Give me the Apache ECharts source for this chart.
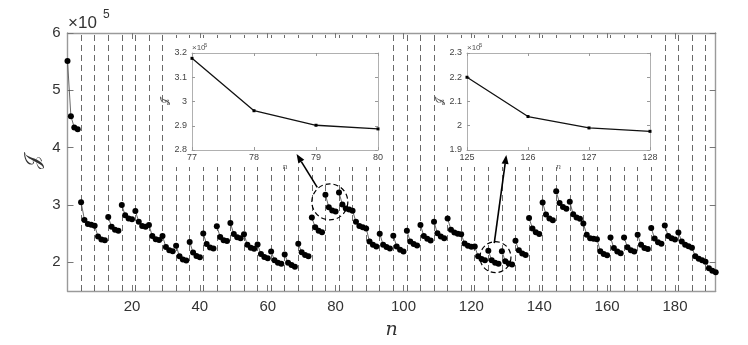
<!DOCTYPE html>
<html>
<head>
<meta charset="utf-8">
<script src="https://cdn.jsdelivr.net/npm/echarts@6/dist/echarts.min.js"></script>
<style>
  html, body { margin: 0; padding: 0; background: #fff; }
  #chart { width: 748px; height: 345px; }
</style>
</head>
<body>
<div id="chart"></div>
<script>
// J (x 10^5) for each iteration n = 1..192
const jValues = [
  5.51, 4.55, 4.35, 4.32,
  3.05, 2.74, 2.67, 2.655,
  2.64, 2.45, 2.40, 2.387,
  2.79, 2.62, 2.57, 2.55,
  3.00, 2.82, 2.764, 2.75,
  2.895, 2.707, 2.635, 2.62,
  2.65, 2.46, 2.404, 2.39,
  2.46, 2.266, 2.209, 2.192,
  2.289, 2.106, 2.049, 2.032,
  2.355, 2.17, 2.11, 2.09,
  2.503, 2.318, 2.26, 2.24,
  2.63, 2.443, 2.386, 2.37,
  2.684, 2.495, 2.438, 2.42,
  2.489, 2.307, 2.255, 2.235,
  2.31, 2.146, 2.094, 2.072,
  2.187, 2.038, 1.991, 1.974,
  2.135, 1.991, 1.952, 1.923,
  2.324, 2.175, 2.129, 2.106,
  2.781, 2.61, 2.552, 2.523,
  3.178, 2.962, 2.902, 2.887,
  3.216, 3.01, 2.94, 2.92,
  2.90, 2.707, 2.633, 2.61,
  2.592, 2.364, 2.307, 2.278,
  2.50, 2.307, 2.266, 2.24,
  2.465, 2.278, 2.221, 2.19,
  2.552, 2.364, 2.318, 2.295,
  2.65, 2.461, 2.41, 2.381,
  2.707, 2.506, 2.449, 2.421,
  2.764, 2.57, 2.52, 2.50,
  2.49, 2.33, 2.289, 2.27,
  2.275, 2.106, 2.06, 2.038,
  2.20, 2.038, 1.991, 1.977,
  2.192, 2.021, 1.981, 1.964,
  2.375, 2.209, 2.153, 2.129,
  2.775, 2.592, 2.523, 2.496,
  3.044, 2.833, 2.764, 2.736,
  3.238, 3.033, 2.964, 2.935,
  3.055, 2.839, 2.781, 2.758,
  2.678, 2.479, 2.421, 2.41,
  2.404, 2.192, 2.146, 2.124,
  2.432, 2.25, 2.19, 2.16,
  2.435, 2.264, 2.209, 2.187,
  2.479, 2.307, 2.25, 2.232,
  2.598, 2.415, 2.35, 2.324,
  2.644, 2.461, 2.421, 2.398,
  2.52, 2.364, 2.307, 2.28,
  2.255, 2.106, 2.061, 2.038,
  2.01, 1.897, 1.855, 1.826
];

// iterations where the plotted line starts a new piece
const segmentStarts = [5, 13, 17, 21, 29, 33, 37, 41, 45, 49, 53, 57, 61, 65, 69, 73, 77, 81,
  93, 97, 101, 105, 109, 113, 125, 129, 133, 137, 141, 145, 149, 161, 165, 169, 173, 177, 181];

// dashed separators
const restartLines = [5, 9, 13, 17, 21, 25, 29, 33, 37, 41, 45, 49, 53, 57, 61, 65, 69, 73, 77,
  81, 85, 89, 93, 97, 101, 105, 109, 113, 117, 121, 125, 129, 133, 137, 141, 145, 149, 153,
  157, 161, 165, 169, 173, 177, 181, 185, 189];

const xTicks = [20, 40, 60, 80, 100, 120, 140, 160, 180];
const yTicks = [2, 3, 4, 5, 6];

// zoomed windows
const zoomA = [77, 78, 79, 80];
const zoomB = [125, 126, 127, 128];

// annotation anchors, in data units of the main axes
const circleA = [78.3, 3.055];
const circleB = [127.1, 2.09];
const arrowA = [[74.6, 3.307], [68.5, 3.89]];
const arrowB = [[126.75, 2.334], [130.3, 3.873]];

const iterations = jValues.map((v, i) => i + 1);

const lineData = [];
iterations.forEach((n, i) => {
    if (i > 0 && segmentStarts.includes(n)) lineData.push([n - 0.5, '-']);
    lineData.push([n, jValues[i]]);
});

const sans = "'Liberation Sans', Arial, sans-serif";
const serif = "'DejaVu Serif', 'Liberation Serif', serif";

const insetA = { left: 192, top: 53, width: 186, height: 97 };
const insetB = { left: 467, top: 53, width: 183, height: 97 };

function insetAxes(grid, range, interval) {
    const lineStyle = { color: '#b0b0b0', width: 1 };
    const tick = { inside: true, length: 3, lineStyle: { color: '#999' } };
    const lbl = { fontSize: 9, color: '#444', fontFamily: sans };
    return {
        x: [
            {
                gridIndex: grid, type: 'value', min: range.x[0], max: range.x[1], interval: 1, z: 9,
                axisLine: { lineStyle }, axisTick: tick, splitLine: { show: false },
                axisLabel: Object.assign({ margin: 3 }, lbl),
                name: 'n', nameLocation: 'middle', nameGap: 13,
                nameTextStyle: { fontFamily: serif, fontStyle: 'italic', fontSize: 8, color: '#666' },
            },
            {
                gridIndex: grid, type: 'value', position: 'top', min: range.x[0], max: range.x[1], interval: 1, z: 9,
                axisLine: { lineStyle }, axisTick: tick, splitLine: { show: false }, axisLabel: { show: false },
            },
        ],
        y: [
            {
                gridIndex: grid, type: 'value', min: range.y[0], max: range.y[1], interval: interval, z: 9,
                axisLine: { show: true, lineStyle }, axisTick: { show: true, ...tick }, splitLine: { show: false },
                axisLabel: Object.assign({ margin: 5 }, lbl),
                name: '𝒥', nameLocation: 'middle', nameGap: 22, nameRotate: 90,
                nameTextStyle: { fontFamily: serif, fontSize: 10, color: '#555' },
            },
            {
                gridIndex: grid, type: 'value', position: 'right', min: range.y[0], max: range.y[1], interval: interval, z: 9,
                axisLine: { show: true, lineStyle }, axisTick: { show: true, ...tick }, splitLine: { show: false },
                axisLabel: { show: false },
            },
        ],
    };
}

const axA = insetAxes(1, { x: [77, 80], y: [2.8, 3.2] }, 0.1);
const axB = insetAxes(2, { x: [125, 128], y: [1.9, 2.3] }, 0.1);

const mainLine = { color: '#9a9a9a', width: 1.4 };
const mainTick = { inside: true, length: 6, lineStyle: { color: '#777', width: 1 } };

const option = {
    animation: false,
    backgroundColor: '#fff',
    grid: [
        { left: 67.5, right: 32.3, top: 33, bottom: 49 },
        insetA,
        insetB,
    ],
    xAxis: [
        {
            type: 'value', min: 1, max: 192,
            axisLine: { lineStyle: mainLine },
            axisTick: Object.assign({ customValues: xTicks }, mainTick),
            axisLabel: { customValues: xTicks, fontSize: 15, color: '#333', fontFamily: sans, margin: 8 },
            splitLine: { show: false },
            name: 'n', nameLocation: 'middle', nameGap: 30,
            nameTextStyle: { fontFamily: serif, fontStyle: 'italic', fontSize: 19, color: '#333' },
        },
        {
            type: 'value', position: 'top', min: 1, max: 192,
            axisLine: { lineStyle: mainLine },
            axisTick: Object.assign({ customValues: xTicks }, mainTick),
            axisLabel: { show: false }, splitLine: { show: false },
        },
        axA.x[0], axA.x[1], axB.x[0], axB.x[1],
    ],
    yAxis: [
        {
            type: 'value', min: 1.5, max: 6,
            axisLine: { show: true, lineStyle: mainLine },
            axisTick: Object.assign({ show: true, customValues: yTicks }, mainTick),
            axisLabel: { customValues: yTicks, fontSize: 15, color: '#333', fontFamily: sans, margin: 7 },
            splitLine: { show: false },
            name: '𝒥', nameLocation: 'middle', nameGap: 24, nameRotate: 90, nameMoveOverlap: false,
            nameTextStyle: { fontFamily: serif, fontSize: 20, color: '#333' },
        },
        {
            type: 'value', position: 'right', min: 1.5, max: 6,
            axisLine: { show: true, lineStyle: mainLine },
            axisTick: Object.assign({ show: true, customValues: yTicks }, mainTick),
            axisLabel: { show: false }, splitLine: { show: false },
        },
        axA.y[0], axA.y[1], axB.y[0], axB.y[1],
    ],
    series: [
        {
            type: 'line', xAxisIndex: 0, yAxisIndex: 0, z: 1,
            data: [], silent: true,
            markLine: {
                z: 1, silent: true, symbol: ['none', 'none'], label: { show: false },
                lineStyle: { type: [6, 4], color: '#444', width: 0.8 },
                data: restartLines.map((n) => ({ xAxis: n })),
            },
        },
        {
            type: 'line', xAxisIndex: 0, yAxisIndex: 0, z: 2,
            data: lineData, connectNulls: false,
            symbol: 'circle', symbolSize: 6, showSymbol: true,
            itemStyle: { color: '#000' },
            lineStyle: { color: '#444', width: 0.8 },
        },
        {
            type: 'line', xAxisIndex: 2, yAxisIndex: 2, z: 10,
            data: zoomA.map((n) => [n, jValues[n - 1]]),
            symbol: 'rect', symbolSize: 3,
            itemStyle: { color: '#000' }, lineStyle: { color: '#111', width: 1.3 },
        },
        {
            type: 'line', xAxisIndex: 4, yAxisIndex: 4, z: 10,
            data: zoomB.map((n) => [n, jValues[n - 1]]),
            symbol: 'rect', symbolSize: 3,
            itemStyle: { color: '#000' }, lineStyle: { color: '#111', width: 1.3 },
        },
    ],
};

const chart = echarts.init(document.getElementById('chart'));
chart.setOption(option);

// annotations (need the laid-out axes)
const px = (p) => chart.convertToPixel({ gridIndex: 0 }, p);

function arrow(a) {
    const [x1, y1] = px(a[0]);
    const [x2, y2] = px(a[1]);
    const ang = Math.atan2(y2 - y1, x2 - x1);
    const L = 9, W = 3.5;
    const bx = x2 - L * Math.cos(ang), by = y2 - L * Math.sin(ang);
    return [
        { type: 'line', z: 20, shape: { x1, y1, x2: bx, y2: by }, style: { stroke: '#000', lineWidth: 1.6 } },
        {
            type: 'polygon', z: 20,
            shape: { points: [[x2, y2], [bx + W * Math.sin(ang), by - W * Math.cos(ang)], [bx - W * Math.sin(ang), by + W * Math.cos(ang)]] },
            style: { fill: '#000' },
        },
    ];
}

function dashedCircle(c, r) {
    const [cx, cy] = px(c);
    return { type: 'circle', z: 20, shape: { cx, cy, r }, style: { fill: 'none', stroke: '#000', lineWidth: 1.2, lineDash: [5, 3] } };
}

function whiteBox(b) {
    return { type: 'rect', z: 8, shape: { x: b.left - 24, y: 38, width: b.width + 30, height: b.height + 32 }, style: { fill: '#fff' } };
}

chart.setOption({
    graphic: [
        whiteBox(insetA),
        whiteBox(insetB),
        { type: 'text', z: 20, x: 68, y: 23, style: { text: '×10', font: '17px ' + sans, fill: '#333', textVerticalAlign: 'middle' } },
        { type: 'text', z: 20, x: 103, y: 15, style: { text: '5', font: '12px ' + sans, fill: '#333', textVerticalAlign: 'middle' } },
        { type: 'text', z: 20, x: insetA.left, y: insetA.top - 5, style: { text: '×10', font: '8px ' + sans, fill: '#555', textVerticalAlign: 'middle' } },
        { type: 'text', z: 20, x: insetA.left + 12, y: insetA.top - 8, style: { text: '5', font: '6px ' + sans, fill: '#555', textVerticalAlign: 'middle' } },
        { type: 'text', z: 20, x: insetB.left, y: insetB.top - 5, style: { text: '×10', font: '8px ' + sans, fill: '#555', textVerticalAlign: 'middle' } },
        { type: 'text', z: 20, x: insetB.left + 12, y: insetB.top - 8, style: { text: '5', font: '6px ' + sans, fill: '#555', textVerticalAlign: 'middle' } },
        dashedCircle(circleA, 18),
        dashedCircle(circleB, 15.5),
        ...arrow(arrowA),
        ...arrow(arrowB),
    ],
});
</script>
</body>
</html>
